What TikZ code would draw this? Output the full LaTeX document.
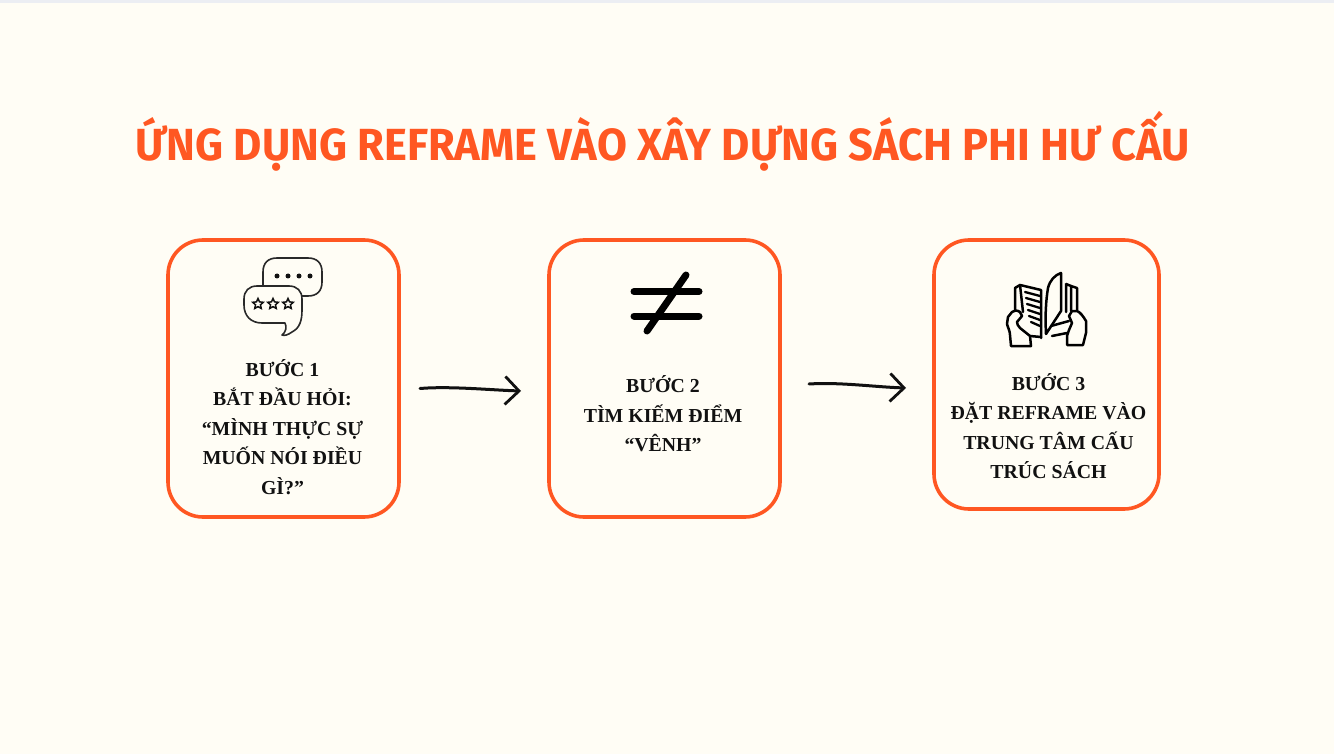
\documentclass[tikz,border=0pt]{standalone}
\usepackage{fontspec}
\setmainfont{Liberation Serif}
\newfontfamily\titlefont{Fira Sans}
\usetikzlibrary{arrows.meta,shapes.geometric}
\definecolor{bgc}{HTML}{FFFDF5}
\definecolor{orangec}{HTML}{FF5722}
\definecolor{stripc}{HTML}{ECEEF3}
\definecolor{inkc}{HTML}{111111}
\tikzset{
  stepbox/.style={draw=orangec,line width=3.6pt,rounded corners=35pt},
  steptext/.style={align=center,font=\bfseries\fontsize{19.8}{29.5}\selectfont,text=inkc,inner sep=0pt},
  flow/.style={draw=inkc,line width=3pt,line cap=round,-{Straight Barb[length=14pt,width=28pt,line width=2.8pt]}},
  iconthin/.style={draw=inkc!90,line width=1.6pt,line join=round},
  iconbold/.style={draw=black,line width=2.5pt,line join=round,line cap=round},
  neq/.style={draw=black,line width=7pt,line cap=round},
  dotm/.style={circle,fill=inkc,inner sep=0pt,minimum size=5pt},
  starm/.style={star,star points=5,star point ratio=2.1,draw=inkc,line width=1.5pt,inner sep=0pt,minimum size=11pt},
}
\begin{document}
\begin{tikzpicture}[x=1pt,y=-1pt]
\useasboundingbox (0,0) rectangle (1334,754);
\fill[bgc] (0,0) rectangle (1334,754);
\fill[stripc] (0,0) rectangle (1334,3.5);

\node[text=orangec,inner sep=0pt,anchor=base] (title) at (662.5,161)
  {\scalebox{0.965}[1]{\titlefont\bfseries\fontsize{45}{50}\selectfont ỨNG DỤNG REFRAME VÀO XÂY DỰNG SÁCH PHI HƯ CẤU}};

\draw[stepbox] (168,240) rectangle (399,517);
\draw[stepbox] (549,240) rectangle (780,517);
\draw[stepbox] (934,240) rectangle (1159,509);

% icon 1
\draw[iconthin] (263,287) -- (263,272) .. controls (263,263) and (268,258) .. (277,258)
  -- (308,258) .. controls (317,258) and (322,263) .. (322,272) -- (322,282)
  .. controls (322,291) and (317,296) .. (308,296) -- (302,296);
\draw[iconthin] (257,286) -- (289,286) .. controls (297,286) and (302,291) .. (302,299)
  -- (302,310) .. controls (302,320) and (300,328) .. (292,332)
  .. controls (288,335) and (284,336) .. (282,335)
  .. controls (286,332) and (287,327) .. (285,323)
  -- (262,323) .. controls (251,323) and (244,316) .. (244,305) -- (244,299)
  .. controls (244,291) and (249,286) .. (257,286) -- cycle;
\foreach \x/\n in {277/a,288/b,299/c,310/d} \node[dotm] (dot\n) at (\x,276) {};
\foreach \x/\n in {258/a,273/b,288/c} \node[starm] (star\n) at (\x,304) {};

% icon 2
\draw[neq] (634,291.5) -- (699,291.5);
\draw[neq] (634,316) -- (699,316);
\draw[neq] (686,275) -- (647,331);

% icon 3: centre page
\draw[iconbold] (1046,334) .. controls (1045,315) and (1046,300) .. (1048,288)
  .. controls (1050,280) and (1055,275) .. (1061,273) -- (1061,311) -- cycle;
% left page, frame and stripes
\draw[iconbold] (1015,310) -- (1015,288) -- (1020,285) -- (1041,290) -- (1041,338);
\draw[iconbold] (1020,285) -- (1023,312);
\draw[iconbold,line width=2.3pt]
  (1025,292) -- (1040,296) (1026,298) -- (1040,302) (1027,304) -- (1040,308)
  (1028,310) -- (1040,314) (1029,316) -- (1040,320) (1031,322) -- (1040,326);
% left hand
\draw[iconbold] (1011,346) -- (1031,346) -- (1030,336) -- (1020,328)
  .. controls (1018,326) and (1017,324) .. (1017,322) -- (1022,316) -- (1020,312)
  .. controls (1017,310) and (1014,310) .. (1012,312) -- (1008,317) -- (1007,324)
  .. controls (1008,328) and (1010,331) .. (1010,335) -- cycle;
\draw[iconbold] (1030,336) -- (1041,337);
% right page frame
\draw[iconbold] (1066,284) -- (1066,312) (1066,284) -- (1071,286) -- (1071,311)
  (1071,286) -- (1077,288) -- (1077,310);
% right hand
\draw[iconbold] (1067,345) -- (1083,345) -- (1086,333) -- (1086,321)
  .. controls (1083,316) and (1080,312) .. (1077,311) -- (1072,311) -- (1069,316)
  -- (1072,323) -- (1069,330) -- (1067,336) -- cycle;
\draw[iconbold] (1051,326) -- (1069,321);
\draw[iconbold] (1052,336) -- (1067,333);

% labels
\node[steptext] (t1) at (282.5,427) {BƯỚC 1\\BẮT ĐẦU HỎI:\\“MÌNH THỰC SỰ\\MUỐN NÓI ĐIỀU\\GÌ?”};
\node[steptext] (t2) at (663,414) {BƯỚC 2\\TÌM KIẾM ĐIỂM\\“VÊNH”};
\node[steptext] (t3) at (1048.5,426) {BƯỚC 3\\ĐẶT REFRAME VÀO\\TRUNG TÂM CẤU\\TRÚC SÁCH};

% connectors
\coordinate (a1s) at (420,388.5);
\coordinate (a1e) at (521,391);
\coordinate (a2s) at (809,384);
\coordinate (a2e) at (906,388);
\draw[flow] (a1s) .. controls (450,386) and (490,390) .. (a1e);
\draw[flow] (a2s) .. controls (840,382) and (875,387) .. (a2e);
\end{tikzpicture}
\end{document}
